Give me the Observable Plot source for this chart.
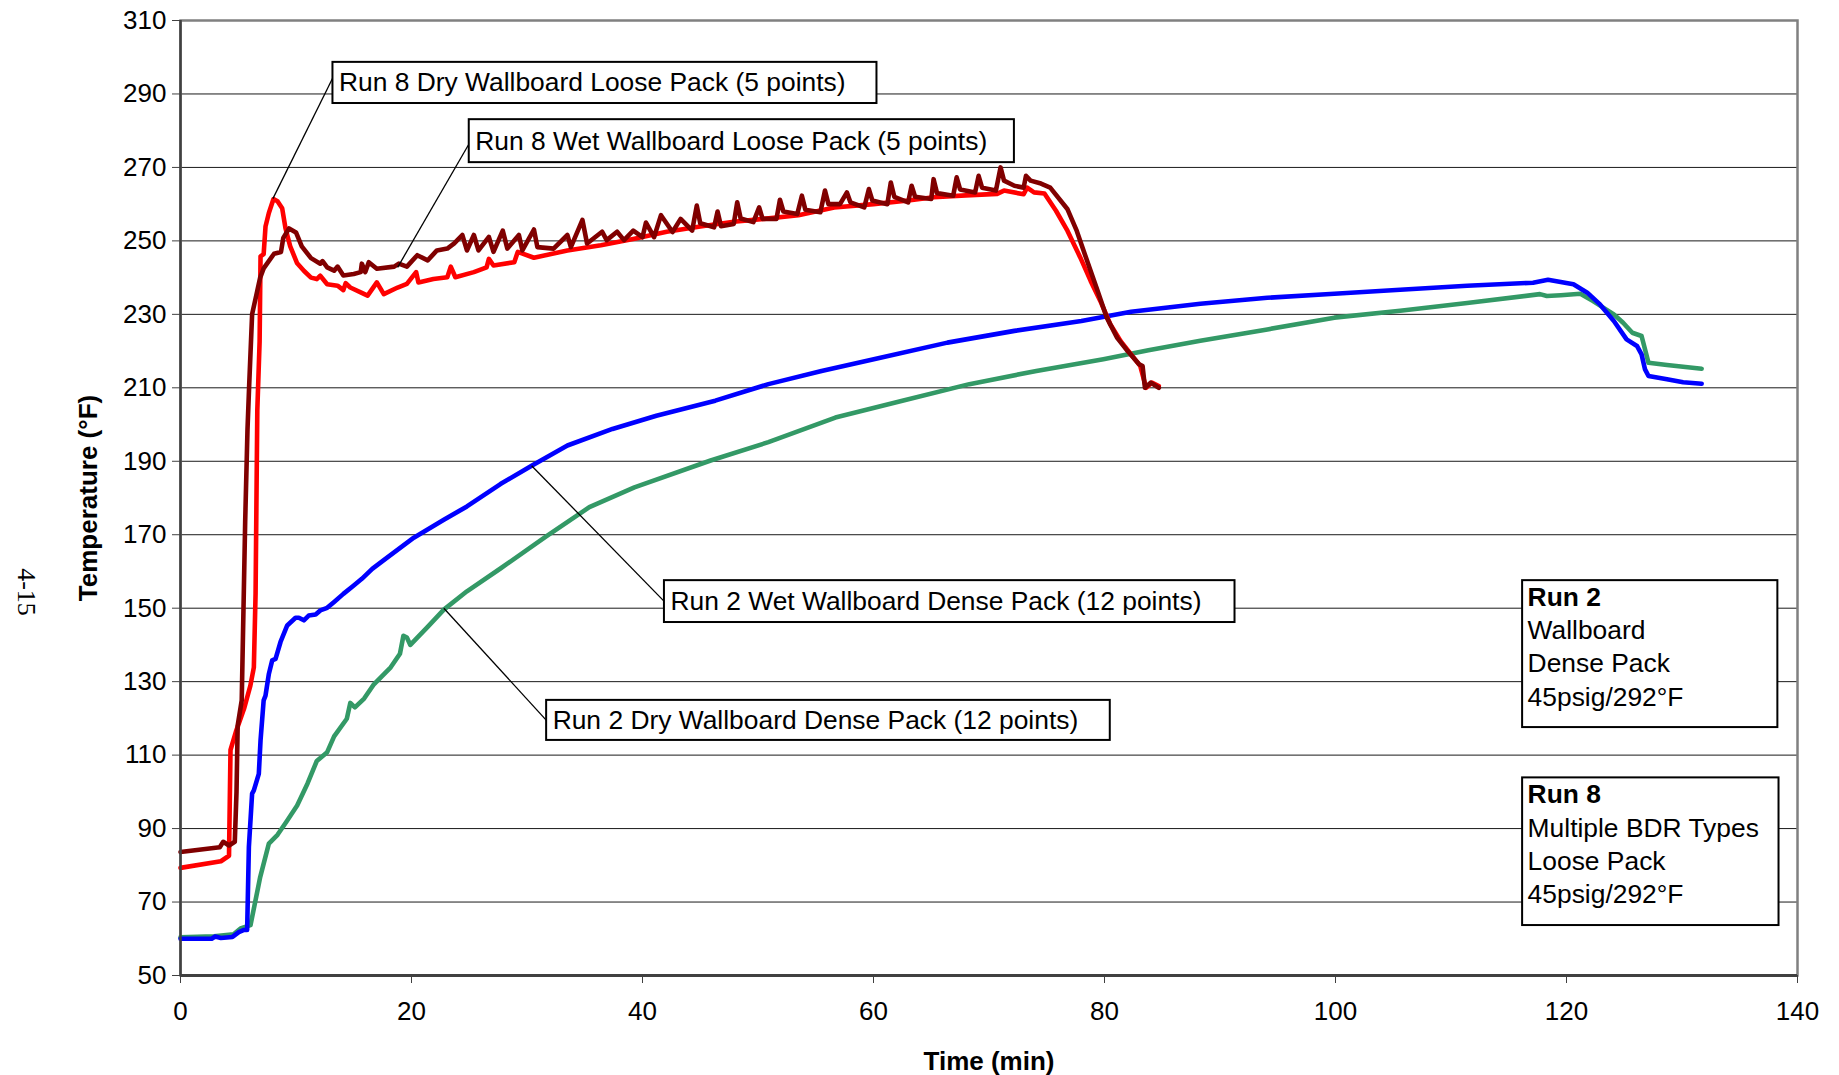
<!DOCTYPE html>
<html><head><meta charset="utf-8">
<script src="https://cdn.jsdelivr.net/npm/d3@7"></script>
<script src="https://cdn.jsdelivr.net/npm/@observablehq/plot@0.6"></script>
<style>
html,body{margin:0;padding:0;background:#fff;}
#chart{position:relative;width:1839px;height:1075px;}
</style></head><body><div id="chart"></div>
<script>
// ---- data: [time (min), temperature (°F)] ----
const run2Dry = [[0,60.4],[2.9,60.7],[4.6,61.2],[5.2,62.8],[6.06,63.7],[6.9,76.8],[7.65,85.9],[8.4,88.3],[9.2,92.0],[10.1,96.3],[11.0,102.3],[11.8,108.4],[12.7,110.8],[13.3,115.1],[14.4,119.9],[14.7,124.2],[15.1,123.0],[15.9,125.4],[16.7,129.1],[18.2,133.9],[19.0,137.6],[19.3,142.5],[19.6,142.0],[19.9,140.0],[21.4,144.9],[22.8,149.6],[24.8,154.6],[27.7,160.8],[31.6,169.4],[35.4,177.5],[39.3,182.9],[45.9,190.2],[50.9,195.2],[56.7,201.9],[62.5,206.5],[68.3,211.0],[74.1,214.6],[79.9,217.8],[83.8,220.2],[88.3,222.8],[94.1,225.9],[99.9,229.1],[105.6,231.0],[111.4,233.1],[117.7,235.5],[118.3,235.0],[119.5,235.2],[121.2,235.6],[122.3,233.6],[124.1,230.0],[124.9,227.7],[125.7,225.0],[126.5,224.1],[127.1,216.8],[128.7,216.2],[131.7,215.2]];
const run2Wet = [[0,60.0],[2.7,60.0],[3.0,60.6],[3.5,60.2],[4.5,60.5],[5.05,61.8],[5.5,62.4],[5.77,62.4],[5.92,85.0],[6.2,99.5],[6.35,100.4],[6.78,104.9],[6.93,114.0],[7.2,124.9],[7.36,126.2],[7.65,132.1],[7.94,135.8],[8.23,136.2],[8.66,140.8],[9.24,145.3],[9.96,147.4],[10.25,147.4],[10.68,146.7],[11.1,148.0],[11.7,148.3],[12.1,149.4],[12.7,150.1],[13.3,151.7],[14.1,153.9],[15.0,156.2],[15.7,158.0],[16.6,160.7],[17.6,163.1],[20.2,169.2],[22.8,174.1],[24.8,177.7],[27.7,183.8],[30.4,188.8],[33.5,194.3],[37.4,198.8],[41.2,202.4],[46.3,206.5],[50.9,211.0],[55.5,214.6],[60.6,218.2],[66.4,222.3],[72.2,225.5],[78.0,228.2],[82.3,230.7],[88.3,232.9],[94.1,234.5],[99.9,235.6],[105.6,236.7],[111.4,237.8],[117.1,238.6],[118.4,239.4],[120.6,238.2],[121.8,235.9],[122.9,232.7],[124.1,228.2],[125.2,223.2],[126.1,221.4],[126.5,219.1],[126.8,215.0],[127.1,213.2],[128.7,212.3],[130.1,211.5],[131.7,211.1]];
const run8Dry = [[0,79.3],[3.5,81.1],[4.2,82.6],[4.33,111.4],[4.8,116.4],[5.5,122.6],[6.05,128.9],[6.35,133.9],[6.5,153.9],[6.65,203.9],[6.85,222.6],[6.93,245.8],[7.2,246.4],[7.36,253.9],[7.65,257.6],[8.05,261.4],[8.4,260.8],[8.8,258.9],[9.1,253.3],[9.5,248.5],[10.1,243.9],[10.7,241.8],[11.3,240.0],[11.8,239.6],[12.1,240.5],[12.7,238.2],[13.6,237.8],[14.1,236.6],[14.3,238.5],[14.7,237.3],[15.6,236.0],[16.2,235.1],[17.0,238.7],[17.6,235.5],[18.8,237.3],[19.6,238.3],[20.4,241.5],[20.6,238.7],[21.9,239.6],[23.1,240.1],[23.4,243.0],[23.8,240.1],[25.4,241.5],[26.5,242.8],[26.7,245.1],[27.1,243.3],[28.9,244.2],[29.2,247.0],[30.6,245.4],[33.5,247.4],[36.4,248.8],[39.3,250.6],[42.1,252.5],[45.0,253.9],[47.9,255.2],[50.5,256.0],[53.5,257.0],[56.6,259.1],[60.0,260.0],[63.0,261.0],[65.2,261.9],[68.0,262.4],[70.7,262.8],[71.3,263.7],[73.0,262.7],[73.3,264.5],[73.9,263.2],[74.8,262.9],[75.8,258.2],[76.8,252.7],[77.9,245.5],[78.8,239.1],[79.7,233.2],[80.5,227.3],[81.4,222.7],[82.3,219.1],[83.1,215.9],[83.6,210.0],[84.1,211.4],[84.7,210.5]];
const run8Wet = [[0,83.6],[3.4,84.9],[3.7,86.4],[4.2,85.4],[4.7,86.4],[4.85,100],[4.95,118],[5.3,124.9],[5.6,173.6],[5.8,198.6],[5.95,211],[6.2,230],[6.9,240],[7.2,242.5],[8.1,246.5],[8.7,247],[8.9,250.8],[9.4,253.4],[10.0,252.3],[10.5,248.5],[11.3,245.3],[12.1,243.8],[12.3,244.5],[12.7,242.8],[13.3,241.9],[13.6,243],[14.1,240.6],[15.0,241],[15.6,241.5],[15.7,243.8],[16.0,241.5],[16.3,244.2],[17.0,242.4],[18.5,243],[18.9,243.8],[19.6,243],[20.5,246.1],[21.4,244.7],[22.2,247.4],[23.1,247.9],[23.7,249.3],[24.4,251.6],[24.8,247.4],[25.4,251.6],[25.8,247.4],[26.7,251.1],[27.1,247],[27.9,252.8],[28.3,247.9],[29.3,251.6],[29.6,247.4],[30.6,253.1],[30.9,248.3],[32.3,247.9],[33.5,251.6],[33.8,248.3],[34.8,255.7],[35.2,249.3],[36.5,252.5],[36.9,250.2],[37.8,252.5],[38.4,250.2],[39.2,252.8],[40.0,251],[40.3,255],[41.0,251],[41.6,257],[42.6,252.4],[43.3,256],[44.3,252.8],[44.7,259.6],[45.0,254.8],[46.2,253.7],[46.5,258],[46.8,254],[47.9,254.6],[48.2,260.5],[48.5,256.1],[49.6,255.1],[50.1,259.1],[50.4,256],[51.6,256],[51.9,261.2],[52.2,258],[53.4,257.3],[53.8,262.3],[54.1,258.5],[55.4,257.8],[55.8,263.7],[56.1,260],[57.1,260],[57.7,263.2],[58.0,260.5],[59.2,259.1],[59.6,264.1],[59.9,261],[61.2,260],[61.5,265.9],[61.8,262],[63.0,260.5],[63.3,265],[63.6,262],[65.0,261.4],[65.2,266.8],[65.5,263],[66.9,262.3],[67.2,267.3],[67.5,264],[68.8,263.2],[69.1,267.7],[69.4,264.5],[70.6,263.7],[71.0,270],[71.3,266.4],[72.2,265],[73.0,264.5],[73.2,267.7],[73.6,266.4],[74.5,265.6],[75.3,264.5],[76.8,258.6],[77.6,252.7],[78.5,244.5],[79.4,236.4],[80.2,229.1],[81.1,223.6],[82.0,220],[83.0,216.4],[83.3,215.9],[83.5,210],[84.0,211.4],[84.7,210]];

const seriesNames = ["Run 2 Dry Wallboard Dense Pack (12 points)","Run 2 Wet Wallboard Dense Pack (12 points)","Run 8 Dry Wallboard Loose Pack (5 points)","Run 8 Wet Wallboard Loose Pack (5 points)"];
const seriesColors = ["#339966","#0000ff","#ff0000","#800000"];
const seriesData = [run2Dry, run2Wet, run8Dry, run8Wet];

const xTicks = [0,20,40,60,80,100,120,140];
const yTicks = [50,70,90,110,130,150,170,190,210,230,250,270,290,310];

// callout boxes (label, box extent, leader line from box to curve)
const callouts = [
  {label: seriesNames[2], x1:13.2, x2:60.3, y1:287.4, y2:298.6, lx:13.2, ly:294.5, tx:8.0,  ty:261.5},
  {label: seriesNames[3], x1:25.0, x2:72.2, y1:271.3, y2:283.0, lx:25.0, ly:276.5, tx:18.8, ty:242.8},
  {label: seriesNames[1], x1:41.9, x2:91.3, y1:146.1, y2:157.5, lx:41.9, ly:151.8, tx:30.4, ty:188.8},
  {label: seriesNames[0], x1:31.7, x2:80.5, y1:114.0, y2:124.9, lx:31.7, ly:119.4, tx:22.8, ty:150.0}
];
const infoBoxes = [
  {title:"Run 2", lines:["Wallboard","Dense Pack","45psig/292°F"], x1:116.2, x2:138.3, y1:117.5, y2:157.5},
  {title:"Run 8", lines:["Multiple BDR Types","Loose Pack","45psig/292°F"], x1:116.2, x2:138.4, y1:63.6, y2:103.8}
];

const W = 1839, H = 1075;
const mT = 20, mB = 100, mL = 180, mR = 42;
const unitPerPx = (310-50)/(H-mT-mB);
const lineGap = 33.2*unitPerPx;

const infoTitles = infoBoxes.map(b => ({x:b.x1, y:b.y2 - 17*unitPerPx, text:b.title}));
const infoLines = infoBoxes.flatMap(b => b.lines.map((t,i) => ({x:b.x1, y:b.y2 - 17*unitPerPx - (i+1)*lineGap, text:t})));

const font = "'Liberation Sans', Arial, Helvetica, sans-serif";

const chart = Plot.plot({
  width: W, height: H,
  marginTop: mT, marginBottom: mB, marginLeft: mL, marginRight: mR,
  style: {fontSize: "26px", fontFamily: font, background: "#fff", color: "#000"},
  x: {domain: [0,140]},
  y: {domain: [50,310]},
  marks: [
    Plot.gridY(yTicks, {stroke: "#000", strokeOpacity: 0.9, strokeWidth: 1}),
    Plot.frame({stroke: "#808080", strokeWidth: 2.5}),
    ...seriesData.map((d,i) => Plot.line(d, {x: p => p[0], y: p => p[1], stroke: seriesColors[i], strokeWidth: 4.6, strokeLinejoin: "round", strokeLinecap: "round"})),
    Plot.link(callouts, {x1:"lx", y1:"ly", x2:"tx", y2:"ty", stroke:"#000", strokeWidth:1.3}),
    Plot.rect(callouts, {x1:"x1", x2:"x2", y1:"y1", y2:"y2", fill:"#fff", stroke:"#000", strokeWidth:2}),
    Plot.text(callouts, {x:"x1", y: d => (d.y1+d.y2)/2, text:"label", textAnchor:"start", dx:6, fontSize:26.4, fill:"#000"}),
    Plot.rect(infoBoxes, {x1:"x1", x2:"x2", y1:"y1", y2:"y2", fill:"#fff", stroke:"#000", strokeWidth:2}),
    Plot.text(infoTitles, {x:"x", y:"y", text:"text", textAnchor:"start", dx:5, fontSize:26.4, fontWeight:"bold", fill:"#000"}),
    Plot.text(infoLines, {x:"x", y:"y", text:"text", textAnchor:"start", dx:5, fontSize:26.4, fill:"#000"}),
    Plot.ruleX([0], {stroke:"#404040", strokeWidth:2.5}),
    Plot.ruleY([50], {stroke:"#404040", strokeWidth:3}),
    Plot.axisX({ticks: xTicks, tickSize: 8, tickPadding: 18, tickFormat: d => String(d), label: "Time (min)", labelArrow: "none", labelAnchor: "center", labelOffset: 94, stroke:"#404040"}),
    Plot.axisY({ticks: yTicks, tickSize: 8, tickPadding: 6, tickFormat: d => String(d), label: "Temperature (°F)", labelArrow: "none", labelAnchor: "center", labelOffset: 102, stroke:"#404040"})
  ]
});

d3.select(chart).selectAll('[aria-label="x-axis label"] text, [aria-label="y-axis label"] text').attr("font-weight", "bold");
// page number printed sideways at left edge
d3.select(chart).append("text")
  .attr("transform", "translate(18,592) rotate(90)")
  .attr("text-anchor", "middle")
  .attr("font-family", "'Liberation Serif', 'Times New Roman', serif")
  .attr("font-size", 26)
  .attr("fill", "#000")
  .text("4-15");

document.getElementById("chart").appendChild(chart);
</script></body></html>
